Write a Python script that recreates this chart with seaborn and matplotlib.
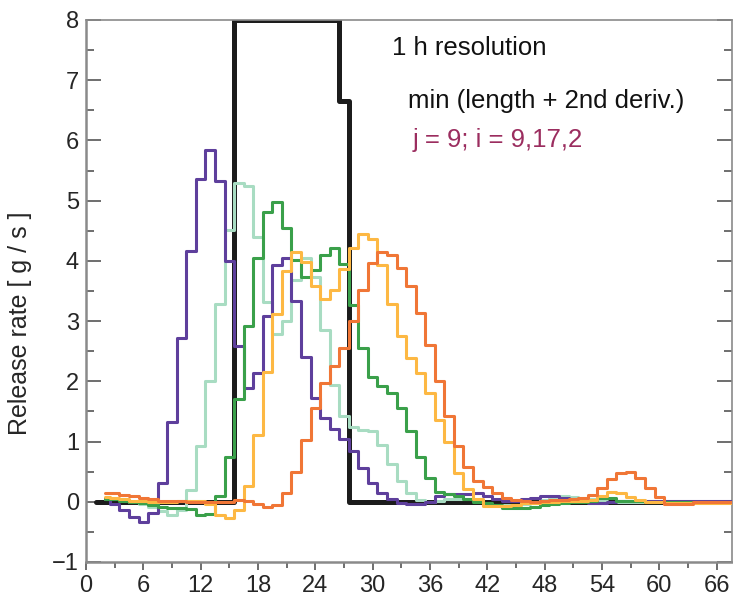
import numpy as np
import pandas as pd
import matplotlib
matplotlib.use('Agg')
import matplotlib.pyplot as plt
from matplotlib.ticker import MultipleLocator
import seaborn as sns

# hourly release rates [g/s], t = 2..68 h for the reconstructions
hours = list(range(2, 69))
hours_true = list(range(1, 69))

true_rate = [0, 0, 0, 0, 0, 0, 0, 0, 0, 0,
             0, 0, 0, 0, 0, 8, 8, 8, 8, 8,
             8, 8, 8, 8, 8, 8, 6.65, 0, 0, 0,
             0, 0, 0, 0, 0, 0, 0, 0, 0, 0,
             0, 0, 0, 0, 0, 0, 0, 0, 0, 0,
             0, 0, 0, 0, 0, 0, 0, 0, 0, 0,
             0, 0, 0, 0, 0, 0, 0, 0]

purple = [0.06, -0.03, -0.13, -0.25, -0.33, -0.19, 0.32, 1.32, 2.72, 4.17,
          5.36, 5.84, 5.33, 4.0, 2.58, 1.89, 2.14, 3.08, 3.94, 4.05,
          3.34, 2.41, 1.72, 1.39, 1.21, 1.05, 0.84, 0.56, 0.31, 0.14,
          0.04, -0.02, -0.03, -0.03, 0.0, 0.09, 0.13, 0.13, 0.13, 0.14,
          0.09, 0.04, 0.02, 0.02, 0.04, 0.06, 0.09, 0.09, 0.06, 0.04,
          0.02, -0.02, -0.02, 0.0, 0.01, 0.01, 0.02, 0.02, 0.02, 0.02,
          0.02, 0.02, 0.02, 0.02, 0.02, 0.02, 0.02]

mint = [0.05, 0.05, 0.03, 0.0, -0.03, -0.08, -0.16, -0.22, -0.13, 0.2,
        0.92, 2.0, 3.28, 4.52, 5.3, 5.25, 4.4, 3.31, 2.78, 3.0,
        3.69, 4.05, 3.74, 2.86, 1.94, 1.42, 1.24, 1.2, 1.17, 0.94,
        0.62, 0.34, 0.14, 0.03, 0.0, 0.02, 0.04, 0.05, 0.05, 0.02,
        -0.03, -0.05, -0.06, -0.05, -0.03, 0.0, 0.03, 0.07, 0.09, 0.08,
        0.06, 0.04, 0.02, 0.0, -0.01, -0.01, 0.0, 0.0, 0.0, 0.0,
        0.0, 0.0, 0.0, 0.0, 0.0, 0.0, 0.0]

green = [0.05, 0.04, 0.02, 0.0, -0.02, -0.05, -0.08, -0.1, -0.1, -0.12,
         -0.22, -0.21, 0.09, 0.75, 1.71, 2.92, 4.05, 4.81, 4.97, 4.55,
         4.02, 3.74, 3.85, 4.1, 4.22, 3.95, 3.27, 2.55, 2.08, 1.92,
         1.81, 1.56, 1.17, 0.75, 0.39, 0.17, 0.13, 0.1, 0.05, 0.0,
         -0.02, -0.05, -0.1, -0.11, -0.11, -0.09, -0.06, -0.04, -0.02, 0.0,
         0.0, 0.02, 0.06, 0.06, 0.02, 0.02, 0.01, 0.0, 0.0, 0.0,
         0.0, 0.0, 0.0, 0.0, 0.0, 0.0, 0.0]

yellow = [0.08, 0.06, 0.04, 0.02, 0.01, 0.0, 0.0, 0.0, 0.02, 0.02,
          0.01, -0.03, -0.22, -0.27, -0.14, 0.27, 1.11, 2.16, 3.12, 3.84,
          4.14, 3.98, 3.58, 3.36, 3.51, 3.86, 4.21, 4.44, 4.37, 3.94,
          3.29, 2.75, 2.39, 2.14, 1.81, 1.35, 1.0, 0.47, 0.22, 0.05,
          -0.07, -0.07, -0.07, -0.05, -0.02, -0.02, 0.0, 0.0, 0.01, 0.02,
          0.02, 0.03, 0.1, 0.16, 0.14, 0.08, 0.03, 0.0, -0.01, -0.02,
          -0.02, -0.02, -0.02, -0.02, -0.02, -0.02, -0.02]

orange = [0.14, 0.14, 0.12, 0.1, 0.07, 0.04, 0.02, 0.01, 0.01, 0.0,
          0.0, 0.0, 0.0, 0.0, 0.03, 0.02, -0.04, -0.09, -0.05, 0.14,
          0.5, 1.03, 1.56, 1.97, 2.26, 2.56, 3.0, 3.52, 3.96, 4.15,
          4.09, 3.88, 3.58, 3.14, 2.61, 2.0, 1.42, 0.92, 0.57, 0.35,
          0.24, 0.14, 0.06, 0.03, 0.01, 0.0, 0.02, 0.03, 0.03, 0.04,
          0.07, 0.12, 0.23, 0.37, 0.47, 0.49, 0.39, 0.23, 0.08, -0.03,
          -0.03, -0.03, 0.0, 0.0, 0.0, 0.0, 0.0]

series = [('mint', mint, '#a8dcc2'),
          ('purple', purple, '#5e3f9c'),
          ('green', green, '#3aa04a'),
          ('yellow', yellow, '#fdb843'),
          ('orange', orange, '#f07636')]

sns.set_theme(style='ticks')
plt.rcParams['font.family'] = ['Liberation Sans', 'DejaVu Sans']

fig = plt.figure(figsize=(7.33, 6.03), dpi=100)
ax = fig.add_axes([86 / 733, 41 / 603, 646 / 733, 542 / 603])

# true release
sns.lineplot(x=hours_true, y=true_rate, ax=ax, color='#1c1c1c', lw=3.6,
             drawstyle='steps-mid', zorder=2)

for name, vals, col in series:
    sns.lineplot(x=hours, y=vals, ax=ax, color=col, lw=2.2,
                 drawstyle='steps-mid', zorder=3)

ax.set_xlim(0, 67.6)
ax.set_ylim(-1, 8)
ax.xaxis.set_major_locator(MultipleLocator(6))
ax.xaxis.set_minor_locator(MultipleLocator(3))
ax.yaxis.set_major_locator(MultipleLocator(1))
ax.yaxis.set_minor_locator(MultipleLocator(0.5))

ax.tick_params(axis='y', which='both', direction='in', left=True, right=True,
               color='#555555', width=1.2, labelsize=17, pad=5)
ax.tick_params(axis='y', which='major', length=11)
ax.tick_params(axis='y', which='minor', length=5.5)
ax.tick_params(axis='x', which='both', direction='out', color='#555555',
               width=1.2, labelsize=17, pad=3)
ax.tick_params(axis='x', which='major', length=6)
ax.tick_params(axis='x', which='minor', length=4)

for s in ax.spines.values():
    s.set_color('#8a8a8a')
    s.set_linewidth(1.2)
ax.spines['left'].set_linewidth(1.8)
ax.spines['bottom'].set_linewidth(1.8)

ax.set_xlabel('')
ax.set_ylabel('Release rate [ g / s ]', fontsize=18)
ax.yaxis.set_label_coords(-0.083, 0.44)

ax.text(0.473, 0.948, '1 h resolution', transform=ax.transAxes,
        fontsize=18.5, ha='left', va='center', color='#111111')
ax.text(0.498, 0.851, 'min (length + 2nd deriv.)', transform=ax.transAxes,
        fontsize=18.5, ha='left', va='center', color='#111111')
ax.text(0.505, 0.779, 'j = 9; i = 9,17,2', transform=ax.transAxes,
        fontsize=18.5, ha='left', va='center', color='#9b2d5f')

fig.savefig('out.png', dpi=100)
